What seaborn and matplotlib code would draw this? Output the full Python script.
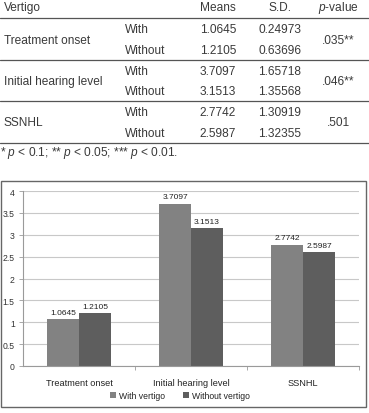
import matplotlib
matplotlib.use("Agg")
import matplotlib.pyplot as plt
import seaborn as sns
import pandas as pd
from matplotlib.patches import Rectangle

# ---- data ----
categories = ["Treatment onset", "Initial hearing level", "SSNHL"]
groups = ["With vertigo", "Without vertigo"]
with_means = [1.0645, 3.7097, 2.7742]
without_means = [1.2105, 3.1513, 2.5987]
with_sd = ["0.24973", "1.65718", "1.30919"]
without_sd = ["0.63696", "1.35568", "1.32355"]
p_values = [".035**", ".046**", ".501"]
header = ["Vertigo", "Means", "S.D.", "p-value"]
footnote = "* $p$ < 0.1; ** $p$ < 0.05; *** $p$ < 0.01."
yticks = [0, 0.5, 1, 1.5, 2, 2.5, 3, 3.5, 4]

sns.set_theme(style="white")
plt.rcParams['font.family'] = ['Liberation Sans', 'DejaVu Sans']
plt.rcParams['mathtext.fontset'] = 'custom'
plt.rcParams['mathtext.it'] = 'Liberation Sans:italic'

W, H = 369, 414
fig = plt.figure(figsize=(W / 100, H / 100), dpi=100)

txt = "#3a3a3a"
# ---- table ----
tax = fig.add_axes([0, 1 - 160 / H, 1, 160 / H])
tax.set_xlim(0, W)
tax.set_ylim(160, 0)
tax.axis("off")
fs = 8.6
tax.text(4, 8, header[0], fontsize=fs, color=txt, va="center", ha="left")
tax.text(218, 8, header[1], fontsize=fs, color=txt, va="center", ha="center")
tax.text(280, 8, header[2], fontsize=fs, color=txt, va="center", ha="center")
tax.text(338, 8, "$p$-value", fontsize=fs, color=txt, va="center", ha="center")
for yl in [18.5, 60.5, 102, 143.5]:
    tax.plot([0, W], [yl, yl], color="#555555", lw=0.9)
row_y = [(30, 51), (72, 92), (113, 134)]
for i, cat in enumerate(categories):
    y1, y2 = row_y[i]
    tax.text(4, (y1 + y2) / 2, cat, fontsize=fs, color=txt, va="center", ha="left")
    tax.text(125, y1, "With", fontsize=fs, color=txt, va="center", ha="left")
    tax.text(125, y2, "Without", fontsize=fs, color=txt, va="center", ha="left")
    tax.text(218, y1, f"{with_means[i]:.4f}", fontsize=fs, color=txt, va="center", ha="center")
    tax.text(218, y2, f"{without_means[i]:.4f}", fontsize=fs, color=txt, va="center", ha="center")
    tax.text(280, y1, with_sd[i], fontsize=fs, color=txt, va="center", ha="center")
    tax.text(280, y2, without_sd[i], fontsize=fs, color=txt, va="center", ha="center")
    tax.text(338, (y1 + y2) / 2, p_values[i], fontsize=fs, color=txt, va="center", ha="center")
tax.text(0, 153, footnote, fontsize=fs, color=txt, va="center", ha="left")

# ---- chart border ----
fig.patches.append(Rectangle((1 / W, 1 - 408 / H), 365 / W, 226 / H,
                             transform=fig.transFigure, fill=False,
                             edgecolor="#666666", lw=1.0))

# ---- bar chart ----
df = pd.DataFrame({
    "category": categories * 2,
    "group": [groups[0]] * 3 + [groups[1]] * 3,
    "value": with_means + without_means,
})
ax = fig.add_axes([23 / W, 1 - 367 / H, (359 - 23) / W, (367 - 192) / H])
palette = {groups[0]: "#828282", groups[1]: "#5e5e5e"}
sns.barplot(data=df, x="category", y="value", hue="group", order=categories,
            hue_order=groups, palette=palette, width=0.57, saturation=1,
            edgecolor="none", ax=ax, legend=True)
ax.set_ylim(0, 4)
ax.set_xlim(-0.5, 2.5)
ax.set_yticks(yticks)
ax.set_yticklabels([f"{t:g}" for t in yticks], fontsize=6.2, color="#333333")
ax.set_xlabel("")
ax.set_ylabel("")
ax.yaxis.grid(True, color="#c8c8c8", lw=0.8)
ax.set_axisbelow(True)
for s in ["top", "right"]:
    ax.spines[s].set_visible(False)
ax.spines["left"].set_color("#9a9a9a")
ax.spines["left"].set_linewidth(0.8)
ax.spines["bottom"].set_color("#9a9a9a")
ax.spines["bottom"].set_linewidth(0.8)
ax.tick_params(axis="y", left=True, length=3, width=0.6, color="#9a9a9a", pad=3)
ax.set_xticks([0, 1, 2])
ax.set_xticklabels(categories, fontsize=6.6, color="#222222")
ax.tick_params(axis="x", bottom=False, pad=2.5)
ax.set_xticks([0.5, 1.5, 2.5], minor=True)
ax.tick_params(axis="x", which="minor", bottom=True, length=3, width=0.6, color="#9a9a9a")

for cont in ax.containers:
    ax.bar_label(cont, labels=[f"{v:.4f}" for v in cont.datavalues],
                 fontsize=6.0, color="#222222", padding=2.5)

leg = ax.legend(loc="center", bbox_to_anchor=(180 / W, 1 - 396.5 / H),
                bbox_transform=fig.transFigure, ncol=2, frameon=False,
                fontsize=6.2, handlelength=0.7, handleheight=0.7,
                handletextpad=0.4, columnspacing=2.0)
for t in leg.get_texts():
    t.set_color("#222222")

fig.savefig("out.png", dpi=100)
